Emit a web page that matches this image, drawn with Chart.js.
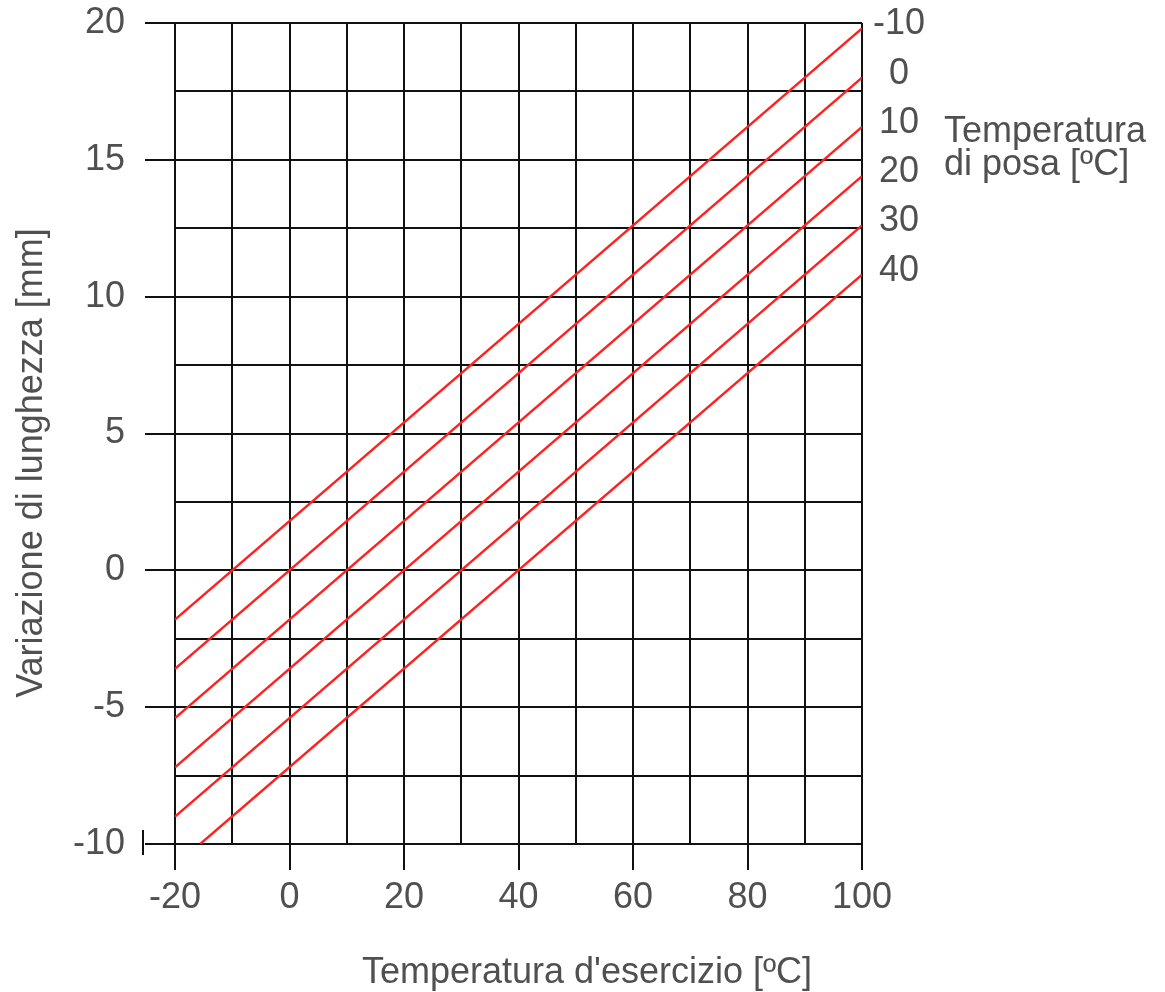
<!DOCTYPE html>
<html>
<head>
<meta charset="utf-8">
<script src="https://cdn.jsdelivr.net/npm/chart.js@4.4.0/dist/chart.umd.min.js"></script>
<style>
  body { margin: 0; background: #fff; }
  canvas { display: block; }
</style>
</head>
<body>
<canvas id="dilatazione" width="1165" height="992"></canvas>
<script>
// temperatura di posa [ºC] per ogni retta
var layingTemps = ['-10', '0', '10', '20', '30', '40'];
// estremi delle rette (temperatura d'esercizio, variazione mm)
var startX = [-20, -20, -20, -20, -20, -15.6];
var startY = [-1.8, -3.6, -5.4, -7.2, -9.0, -10];
var endX = [100, 100, 100, 100, 100, 100];
var endY = [19.8, 18.0, 16.2, 14.4, 12.6, 10.8];

var xTitle = "Temperatura d'esercizio [ºC]";
var yTitle = 'Variazione di lunghezza [mm]';
var sideTitle = ['Temperatura', 'di posa [ºC]'];

var textColor = '#505050';
var gridColor = '#111111';
var fontFamily = '"Liberation Sans", Arial, sans-serif';

var datasets = [];
layingTemps.forEach(function(t, i) {
    datasets.push({
        label: t,
        data: [{x: startX[i], y: startY[i]}, {x: endX[i], y: endY[i]}],
        showLine: true,
        borderColor: '#ff2020',
        borderWidth: 2.4,
        pointRadius: 0,
        fill: false
    });
});

var labelsPlugin = {
    id: 'labelsPlugin',
    afterDraw: function(chart) {
        var ctx = chart.ctx;
        var area = chart.chartArea;
        var ys = chart.scales.y;
        ctx.save();
        ctx.fillStyle = textColor;
        ctx.font = '36px ' + fontFamily;

        // etichette temperature di posa
        ctx.textAlign = 'center';
        ctx.textBaseline = 'middle';
        chart.data.datasets.forEach(function(ds, i) {
            ctx.fillText(ds.label, area.right + 37, ys.getPixelForValue(endY[i]) - 4);
        });

        ctx.textAlign = 'left';
        ctx.textBaseline = 'alphabetic';
        ctx.fillText(sideTitle[0], 944, 142);
        ctx.fillText(sideTitle[1], 944, 175);

        // titolo asse x
        ctx.textAlign = 'center';
        ctx.fillText(xTitle, 587, 983);

        // titolo asse y
        ctx.translate(42, 463);
        ctx.rotate(-Math.PI / 2);
        ctx.fillText(yTitle, 0, 0);
        ctx.restore();

        // piccolo segno all'estremo sinistro dell'asse
        var yb = ys.getPixelForValue(-10);
        ctx.save();
        ctx.strokeStyle = gridColor;
        ctx.lineWidth = 2;
        ctx.beginPath();
        ctx.moveTo(area.left - 32, yb - 14);
        ctx.lineTo(area.left - 32, yb + 11);
        ctx.stroke();
        ctx.restore();
    }
};

var ctx = document.getElementById('dilatazione').getContext('2d');
var chart = new Chart(ctx, {
    type: 'scatter',
    data: { datasets: datasets },
    options: {
        responsive: false,
        animation: false,
        layout: { padding: { left: 0, right: 303, top: 23, bottom: 48 } },
        plugins: { legend: { display: false }, tooltip: { enabled: false } },
        scales: {
            x: {
                type: 'linear',
                min: -20,
                max: 100,
                afterFit: function(scale) {
                    scale.height = 100;
                    scale.paddingLeft = 0;
                    scale.paddingRight = 0;
                },
                border: { display: false },
                grid: {
                    color: gridColor,
                    lineWidth: 2,
                    tickLength: 26,
                    tickColor: function(c) {
                        return c.tick && c.tick.value % 20 === 0 ? gridColor : 'rgba(0,0,0,0)';
                    }
                },
                ticks: {
                    stepSize: 10,
                    maxTicksLimit: 100,
                    autoSkip: false,
                    maxRotation: 0,
                    padding: 6,
                    color: textColor,
                    font: { family: fontFamily, size: 36 },
                    callback: function(v) { return v % 20 === 0 ? String(v) : ''; }
                }
            },
            y: {
                type: 'linear',
                min: -10,
                max: 20,
                afterFit: function(scale) {
                    scale.width = 175;
                    scale.paddingTop = 0;
                    scale.paddingBottom = 0;
                },
                border: { display: false },
                grid: {
                    color: gridColor,
                    lineWidth: 2,
                    tickLength: 30,
                    tickColor: function(c) {
                        return c.tick && c.tick.value % 5 === 0 ? gridColor : 'rgba(0,0,0,0)';
                    }
                },
                ticks: {
                    stepSize: 2.5,
                    maxTicksLimit: 100,
                    autoSkip: false,
                    padding: 20,
                    color: textColor,
                    font: { family: fontFamily, size: 36 },
                    callback: function(v) { return v % 5 === 0 ? String(v) : ''; }
                }
            }
        }
    },
    plugins: [labelsPlugin]
});
</script>
</body>
</html>
